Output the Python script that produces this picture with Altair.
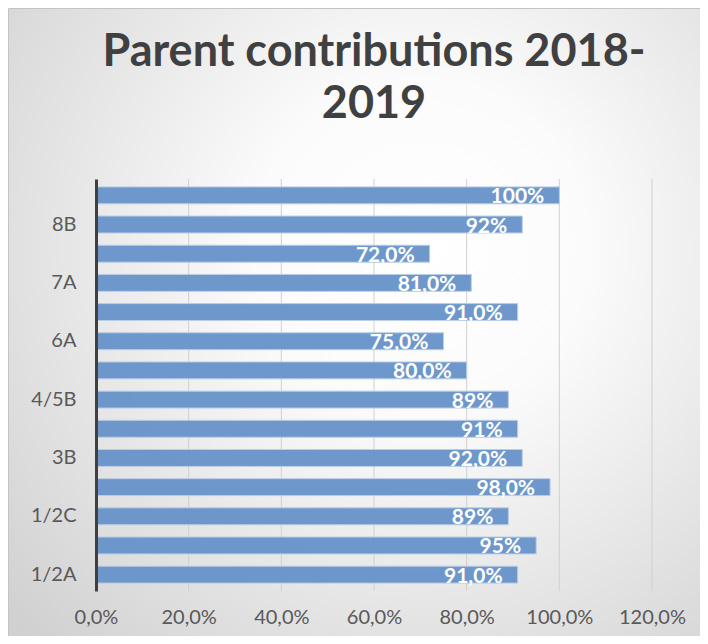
import altair as alt
import pandas as pd

# Categories listed bottom -> top (only every other one is labelled in the source)
categories = ["1/2A", "1/2B", "1/2C", "3A", "3B", "4/5A", "4/5B",
              "4/5C", "6A", "6B", "7A", "8A", "8B", "8C"]
shown_labels = ["1/2A", "1/2C", "3B", "4/5B", "6A", "7A", "8B"]
values = [0.91, 0.95, 0.89, 0.98, 0.92, 0.91, 0.89,
          0.80, 0.75, 0.91, 0.81, 0.72, 0.92, 1.00]
value_labels = ["91,0%", "95%", "89%", "98,0%", "92,0%", "91%", "89%",
                "80,0%", "75,0%", "91,0%", "81,0%", "72,0%", "92%", "100%"]
x_ticks = [0.0, 0.2, 0.4, 0.6, 0.8, 1.0, 1.2]

df = pd.DataFrame({"cat": categories, "val": values, "lab": value_labels})
order_top_down = categories[::-1]

W, H = 556, 412
PL, PT, PR, PB = 88, 171, 48, 45

FONT = "Lato"

bg = alt.Chart(pd.DataFrame({"a": [0]})).mark_rect(
    fill={"gradient": "radial",
          "x1": 0.58, "y1": 0.38, "r1": 0.0,
          "x2": 0.58, "y2": 0.38, "r2": 0.78,
          "stops": [{"offset": 0.0, "color": "#ffffff"},
                    {"offset": 0.3, "color": "#fbfbfb"},
                    {"offset": 1.0, "color": "#d0d0d0"}]},
    stroke="#c4c4c4", strokeWidth=1,
).encode(
    x=alt.value(-PL + 0.5), x2=alt.value(W + PR + 20),
    y=alt.value(-PT + 0.5), y2=alt.value(H + PB + 20),
)

grid = alt.Chart(pd.DataFrame({"t": x_ticks})).mark_rule(
    color="#d0d0d0", strokeWidth=1
).encode(
    x=alt.X("t:Q", scale=alt.Scale(domain=[0, 1.2])),
)

ybase = alt.Y("cat:N", sort=order_top_down, title=None,
              scale=alt.Scale(paddingInner=0.42, paddingOuter=0.27),
              axis=alt.Axis(values=shown_labels, ticks=False, domain=True,
                            domainColor="#404040", domainWidth=3,
                            labelFont=FONT, labelFontSize=20,
                            labelColor="#595959", labelPadding=20,
                            zindex=1))

xbase = alt.X("val:Q", title=None,
              scale=alt.Scale(domain=[0, 1.2]),
              axis=alt.Axis(values=x_ticks, grid=False, domain=False,
                            ticks=False, labelFont=FONT, labelFontSize=20,
                            labelColor="#595959", labelPadding=16,
                            labelOverlap=False, labelFlush=False,
                            labelExpr="replace(format(datum.value, '.1%'), '.', ',')",
                            zindex=1))

bars = alt.Chart(df).mark_bar(
    color="#6a95ca", stroke="#b9cde6", strokeWidth=1, opacity=0.97
).encode(x=xbase, y=ybase)

labels = alt.Chart(df).mark_text(
    align="right", baseline="middle", dx=-15, dy=2,
    font=FONT, fontSize=21, fontWeight="bold", color="white"
).encode(x="val:Q", y=alt.Y("cat:N", sort=order_top_down), text="lab:N")

chart = alt.layer(bg, grid, bars, labels).properties(
    width=W, height=H,
    title=alt.Title(["Parent contributions 2018-", "2019"],
                    font=FONT, fontSize=45, fontWeight="bold",
                    color="#404040", anchor="middle", lineHeight=52,
                    offset=52 - PT, frame="group"),
    padding={"left": PL, "top": PT, "right": PR, "bottom": PB},
    autosize=alt.AutoSizeParams(type="none"),
).configure_view(stroke=None).configure(background="#ffffff")

chart.save("out.html", embed_options={"renderer": "svg", "actions": False})
